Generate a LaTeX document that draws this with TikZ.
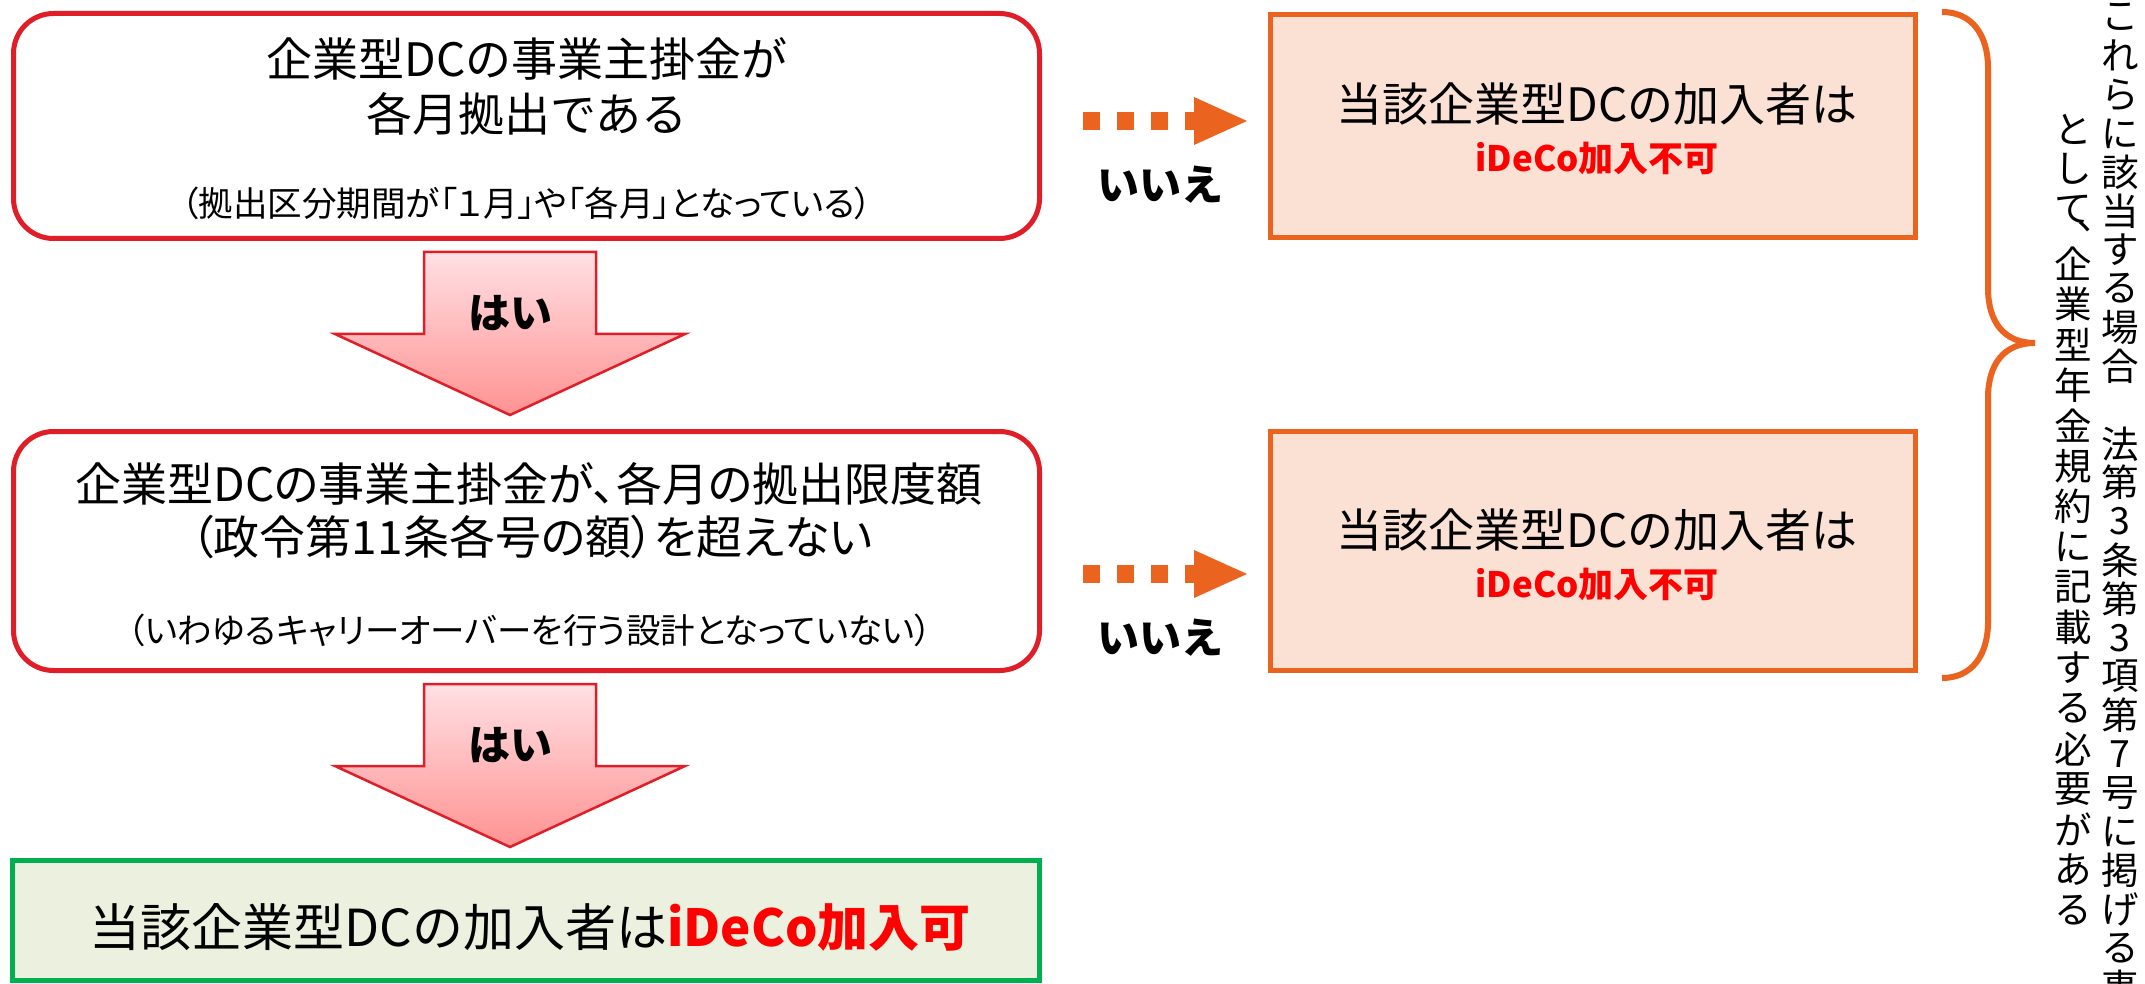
\documentclass[tikz,border=0pt]{standalone}
\usepackage{fontspec}
\setmainfont{Noto Sans CJK JP}
\newfontfamily\paltfont{Noto Sans CJK JP}[RawFeature=+palt]
\usetikzlibrary{calc}
\definecolor{boxred}{RGB}{224,30,40}
\definecolor{ored}{RGB}{234,100,32}
\definecolor{peach}{RGB}{251,224,212}
\definecolor{gborder}{RGB}{0,176,80}
\definecolor{gfill}{RGB}{235,241,222}
\definecolor{pinktop}{RGB}{255,224,228}
\definecolor{pinkbot}{RGB}{255,146,146}
\definecolor{txtred}{RGB}{255,0,0}
\tikzset{
  redbox/.style={draw=boxred, line width=5pt, rounded corners=40pt, fill=white, inner sep=0pt, outer sep=0pt},
  obox/.style={draw=ored, line width=5pt, fill=peach, inner sep=0pt, outer sep=0pt},
  gbox/.style={draw=gborder, line width=5pt, fill=gfill, inner sep=0pt, outer sep=0pt},
  bigtxt/.style={font=\fontsize{46}{55}\selectfont, inner sep=0pt},
  midtxt/.style={font=\paltfont\fontsize{46}{55}\selectfont, inner sep=0pt},
  smalltxt/.style={font=\paltfont\fontsize{34.5}{40}\selectfont, inner sep=0pt},
  yestxt/.style={font=\bfseries\fontsize{42}{50}\selectfont, inner sep=0pt},
  redtxt/.style={font=\bfseries\fontsize{35}{42}\selectfont, text=txtred, inner sep=0pt},
  dotline/.style={draw=ored, line width=18pt, dash pattern=on 17pt off 17pt},
  headtip/.style={fill=ored, draw=none},
  blockarrow/.style={draw=boxred, line width=2.5pt, top color=pinktop, bottom color=pinkbot, line join=miter},
  vchar/.style={font=\fontsize{37.5}{38}\selectfont, inner sep=0pt},
  bracepath/.style={draw=ored, line width=6pt},
}
\begin{document}
\begin{tikzpicture}[x=1pt,y=-1pt]
\useasboundingbox (0,0) rectangle (2145,984);
\fill[white] (0,0) rectangle (2145,984);

% left boxes
\node[redbox, minimum width=1026pt, minimum height=225pt] (box1) at (526.5,126) {};
\node[redbox, minimum width=1026pt, minimum height=239pt] (box2) at (526.5,551) {};
\node[gbox, minimum width=1027pt, minimum height=120pt] (box3) at (526,920.5) {};
% right boxes
\node[obox, minimum width=645pt, minimum height=223pt] (boxA) at (1593,126) {};
\node[obox, minimum width=645pt, minimum height=239pt] (boxB) at (1593,551) {};

% texts box1
\node[bigtxt] (t1a) at (527,59) {企業型DCの事業主掛金が};
\node[bigtxt] (t1b) at (527,114) {各月拠出である};
\node[smalltxt] (t1c) at (527,203) {（拠出区分期間が「１月」や「各月」となっている）};
% texts box2
\node[midtxt] (t2a) at (529,484) {企業型DCの事業主掛金が、各月の拠出限度額};
\node[midtxt] (t2b) at (532,537) {（政令第11条各号の額）を超えない};
\node[smalltxt] (t2c) at (530,630) {（いわゆるキャリーオーバーを行う設計となっていない）};
% text box3
\node[font=\fontsize{51}{60}\selectfont, inner sep=0pt] (t3) at (530,927) {当該企業型DCの加入者は\textcolor{txtred}{\bfseries iDeCo加入可}};
% texts right boxes
\node[bigtxt] (tA1) at (1597,104) {当該企業型DCの加入者は};
\node[redtxt] (tA2) at (1597,158) {iDeCo加入不可};
\node[bigtxt] (tB1) at (1597,530) {当該企業型DCの加入者は};
\node[redtxt] (tB2) at (1597,584) {iDeCo加入不可};

% block arrows (yes)
\coordinate (a1) at (510,252);
\coordinate (a2) at (510,684);
\begin{scope}[shift={(a1)}]
\draw[blockarrow] (-86,0) -- (86,0) -- (86,82) -- (175,82) -- (0,163) -- (-175,82) -- (-86,82) -- cycle;
\end{scope}
\begin{scope}[shift={(a2)}]
\draw[blockarrow] (-86,0) -- (86,0) -- (86,82) -- (175,82) -- (0,163) -- (-175,82) -- (-86,82) -- cycle;
\end{scope}
\node[yestxt] (yes1) at (510,313) {はい};
\node[yestxt] (yes2) at (510,745) {はい};

% dotted arrows (no)
\draw[dotline] ($(box1.east)+(43.5,-5)$) -- ($(boxA.west)+(-70.5,-5)$);
\fill[headtip] ($(boxA.west)+(-76.5,-29)$) -- ($(boxA.west)+(-23.5,-5)$) -- ($(boxA.west)+(-76.5,19)$) -- cycle;
\draw[dotline] ($(box2.east)+(43.5,23)$) -- ($(boxB.west)+(-70.5,23)$);
\fill[headtip] ($(boxB.west)+(-76.5,-1)$) -- ($(boxB.west)+(-23.5,23)$) -- ($(boxB.west)+(-76.5,47)$) -- cycle;
\node[yestxt] (no1) at (1160,185) {いいえ};
\node[yestxt] (no2) at (1160,638) {いいえ};

% brace
\draw[bracepath] (1942,12) .. controls (1972,12) and (1988,35) .. (1988,68) -- (1988,288)
  .. controls (1988,322) and (2004,343) .. (2035,343)
  .. controls (2004,343) and (1988,364) .. (1988,398) -- (1988,622)
  .. controls (1988,655) and (1972,678) .. (1942,678);

% vertical text, right column
\foreach \c/\k in {こ/0,れ/1,ら/2,に/3,該/4,当/5,す/6,る/7,場/8,合/9,法/11,第/12,3/13,条/14,第/15,3/16,項/17,第/18,7/19,号/20,に/21,掲/22,げ/23,る/24,事/25}{
  \node[vchar] (vr\k) at (2120,{17+\k*38.8}) {\c};
}
% vertical text, left column
\node[vchar] (vl1) at (2073,129) {と};
\node[vchar] (vl2) at (2073,169) {し};
\node[vchar] (vl3) at (2073,209) {て};
\node[vchar] (vlc) at (2073,237) {︑};
\foreach \c/\k in {企/0,業/1,型/2,年/3,金/4,規/5,約/6,に/7,記/8,載/9,す/10,る/11,必/12,要/13,が/14,あ/15,る/16}{
  \node[vchar] (vm\k) at (2073,{264+\k*40.4}) {\c};
}
\end{tikzpicture}
\end{document}
